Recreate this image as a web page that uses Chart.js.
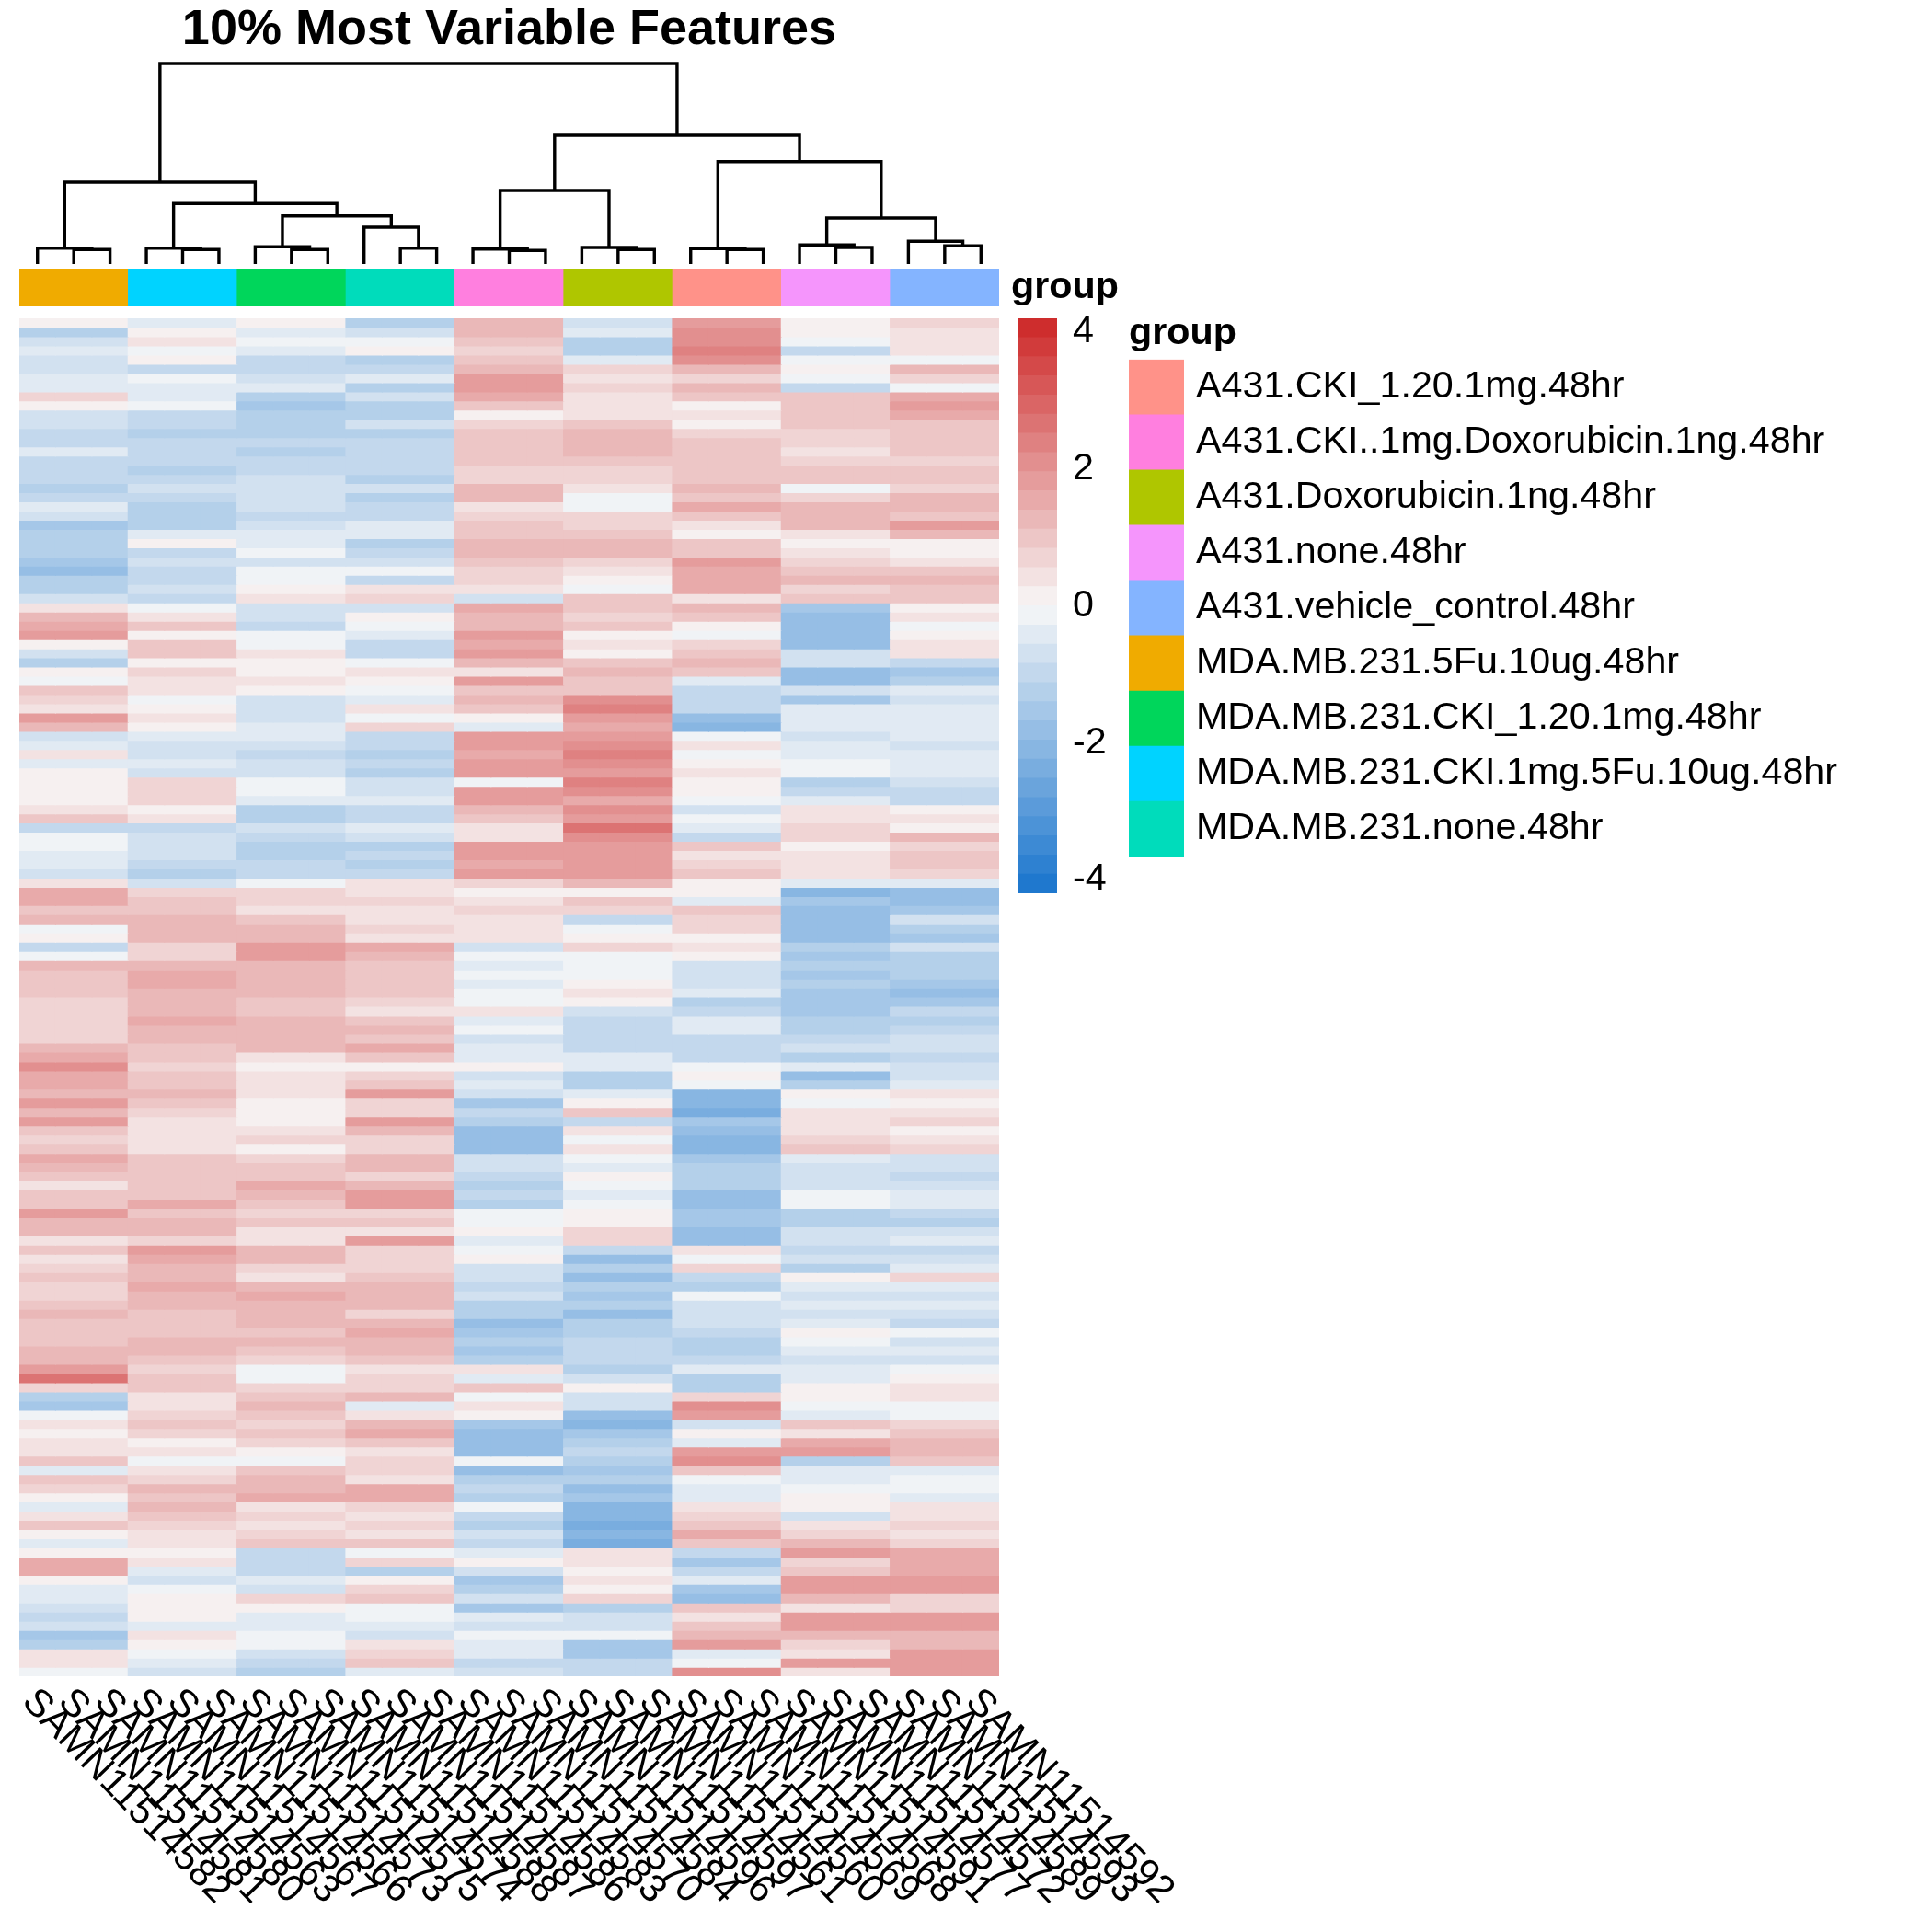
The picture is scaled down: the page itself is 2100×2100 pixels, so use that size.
<!DOCTYPE html>
<html><head><meta charset="utf-8">
<style>html,body{margin:0;padding:0;background:#fff;width:2100px;height:2100px;overflow:hidden}canvas{position:absolute;display:block}</style>
<script src="https://cdn.jsdelivr.net/npm/chart.js@4"></script>
</head><body>
<canvas id="dendro" width="1065" height="287" style="left:21px;top:0"></canvas>
<canvas id="annot" width="1265" height="101" style="left:21px;top:262px"></canvas>
<canvas id="heat" width="1300" height="1760" style="left:0;top:340px"></canvas>
<canvas id="cbar" width="100" height="685" style="left:1107px;top:316px"></canvas>
<canvas id="legend" width="873" height="623" style="left:1227px;top:338px"></canvas>
<script>
const titleText = "10% Most Variable Features";
const sampleIds = ["82","81","80","63","67","66","73","75","74","88","87","86","83","70","84","96","97","61","60","69","68","91","77","72","89","93","92"];
const sampleLabels = sampleIds.map(d => "SAMN115145" + d);
const legendLabels = ["A431.CKI_1.20.1mg.48hr","A431.CKI..1mg.Doxorubicin.1ng.48hr","A431.Doxorubicin.1ng.48hr","A431.none.48hr","A431.vehicle_control.48hr","MDA.MB.231.5Fu.10ug.48hr","MDA.MB.231.CKI_1.20.1mg.48hr","MDA.MB.231.CKI.1mg.5Fu.10ug.48hr","MDA.MB.231.none.48hr"];
const legendColors = ["#FF9289","#FF7FDF","#AFC600","#F595FC","#84B4FF","#F0AB00","#00D65B","#00D3FF","#00DCBB"];
const columnGroupOrder = [5,7,6,8,1,2,0,3,4];
const colorTicks = [4,2,0,-2,-4];

const mdaFu = [.1,-1.2,-.6,-.3,-.6,-.6,-.5,-.4,.6,.1,-.8,-.8,-1,-.9,-.5,-1,-.9,-1,-1.4,-1,-.5,-.7,-1.6,-1.4,-1.3,
-1.4,-1.6,-1.8,-1.4,-1.3,-.6,.5,1.4,1.5,1.9,.2,-.8,-1.3,.1,-.2,1.1,.7,.3,1.7,1.2,-.6,-.4,.3,-.3,.2,
.1,.2,.2,.3,.9,-1,-.2,-.1,-.4,-.5,-.8,.5,1.5,1.6,1,1.2,-.2,.2,-1,-.1,1.4,1.1,.9,1,.6,
.6,.7,.8,.8,1.2,1.6,2.2,1.5,1.5,1.4,1.7,1.4,1.7,1,.6,1,1.5,1.3,1.1,.3,.9,1.1,1.8,1.3,1.2,
.3,.9,.5,.7,1,.8,.7,1,1.4,1.1,.9,1,1.2,1.4,1.8,2.6,.8,-1.4,-1.5,-.1,.5,.2,.4,.3,.9,
-.4,1,.6,.1,-.4,.3,.9,0,-.4,.2,1.6,1.6,.1,-.5,-.5,-.7,-1,-.8,-1.6,-1.2,.3,.3,-.1];
const mdaCkiFu = [-.3,.2,.3,-.2,.1,-1,-.1,-.4,-.3,-.2,-1,-1.1,-1.2,-1,-1,-1,-1.2,-1.1,-.6,-.9,-1.2,-1.4,-1.3,-.3,.1,
-1,-.8,-1,-1,-.6,-.9,-.1,.3,.9,.1,1,1,.2,.8,.4,.5,-.2,.1,.3,.1,-.4,-.7,-.6,-.3,-.6,
.7,.8,.6,.1,.3,-.9,-.7,-.7,-.8,-1.1,-1.2,-.6,.8,1,.9,1.2,1.3,1.4,.6,.7,1.3,1.5,1.6,1.2,1.3,
1.4,1.5,1.3,1.2,1,1.1,.7,1,1.1,1.2,.9,.6,.5,.4,.5,.3,1,.9,1.1,1.1,.9,1.5,1.1,1.2,1.4,
.6,1.8,1.6,1.2,1.4,1.6,1.3,1.3,1.1,.9,1.1,1.2,1.3,1,.8,1,.9,.3,.4,.7,.9,.6,.2,.3,-.1,
.3,.6,1.4,1,1.2,1,.8,.3,.5,.1,.4,-.3,-.6,-.2,.2,0,.1,-.4,.3,.1,-.2,-.4,-.8];
const mdaCki = [.2,-.5,-.2,-.3,-.9,-1.1,-.7,-.5,-1.4,-1.5,-1.3,-1.4,-1.2,-1,-1.3,-1.1,-.9,-.7,-.6,-.7,-.8,-1,-.8,-.4,-.3,
-.1,-.6,-.2,-.1,.2,.3,-.8,-.6,-.9,-.1,-.2,.5,.1,.2,.5,.1,-.6,-.6,-.7,-.4,-.4,-.8,-1,-.7,-.6,
-.1,-.2,-.5,-1.2,-1.3,-.7,-.9,-1.4,-1.2,-1,-1.1,-.1,.7,.6,.5,1,1.2,1.2,1.8,1.9,1.3,1.3,1.4,1.4,1.1,
1,1.2,1.2,1.4,1.2,.5,.1,.4,.5,.5,.2,.2,.2,.4,.6,.2,.7,.9,1,1.5,1.4,1.1,.7,.9,.5,
.4,1.4,1.2,.8,.4,1.4,1.5,1.2,1.2,1.3,1,1.2,1.1,.7,-.2,-.1,.7,1.1,1.2,1,.6,.9,.7,.2,-.1,
1,1.3,1.3,1.6,.3,.7,.4,.8,1.1,-.9,-1,-1,-.3,-.6,.6,.1,-.3,-.5,-.1,-.1,-.7,-.9,-1.3];
const mdaNone = [-1.2,-.6,-.1,.2,-1.4,-1.1,-.5,-1.2,-.8,-1.3,-1.3,-.8,-1.3,-1.1,-1,-.9,-.9,-1.2,-.8,-1.3,-.9,-1,-.5,-.4,-1.2,
-1,-.7,-.2,-1,.3,.6,-.7,.2,-.1,-.4,-.9,-.9,-.2,.3,.1,-.1,-.5,.3,-.1,.6,-1,-1.1,-1.3,-1.1,-1.3,
-.7,-.8,-.3,-1,-.9,-.5,-.6,-1.4,-1.1,-1.2,-.9,.3,.5,.6,.4,.5,.8,.3,1.5,1.4,1,.9,1.1,1,.8,
.3,1,1.3,1.1,1.5,.9,.1,.8,.9,1.8,.7,.6,1.8,1.3,.8,.6,1.3,1.2,.8,1.3,1.8,1.7,.7,1,.5,
1.8,.6,.8,.6,1.1,1.2,1.2,1.3,.8,1.2,1.5,1.2,1.3,1.1,.3,.6,.6,1.3,-.3,.4,1.2,1.6,.9,.5,.6,
.7,.5,1.5,1.5,.7,.5,.7,.3,.9,-.2,.7,-1.4,.1,.7,1.1,-.2,-.2,-.5,-.7,.4,.8,.9,-.4];
const a431Combo = [1.3,1.3,.9,.6,1.1,1.3,1.9,1.8,1.6,1.1,.1,.8,1,1,1.1,1,.6,.6,1.3,1.2,.4,.7,.9,1,1.4,
1.2,1.1,.8,.6,.3,-.8,1.6,1.4,1.3,1.7,1.6,1.8,1.2,.3,1.8,1.1,1.3,1,.2,-.5,1.7,1.9,1.5,1.9,1.7,
-.2,1.7,1.9,1.2,.9,.5,.3,1.7,1.8,1.6,1.7,.6,.1,.3,.8,.5,.4,.3,-.6,-.2,-.3,-.2,-.5,-.2,-.1,
.4,-.4,-.1,-.7,-.5,-.3,.2,-.6,-.5,-.8,-1.6,-.9,-1.3,-1.7,-1.9,-1.7,-.6,-.8,-.9,-1.2,-1,-1.3,-.2,-.1,.2,
-.3,-.2,0,-.7,-.8,-1,-.8,-1.2,-1.2,-1.7,-1.5,-1.3,-1.5,-1.3,.3,-.3,.9,-.2,.3,.2,-1.6,-1.7,-1.9,-1.7,-.2,
-1.7,-1.4,-1.1,-1.3,-.1,-.9,-1.4,-.7,-.9,-.4,.1,-.8,-1.5,-1.2,-.8,-1.6,-.5,-.6,-.1,-.3,-.5,-1.1,-.6];
const a431Doxo = [-.8,-.3,-1.2,-1.4,-.3,.8,.5,.8,.3,.4,.5,1,1.2,1.3,1.2,.9,.7,.8,.5,-.1,-.1,.6,.7,1,1.4,
1.4,.7,.5,.2,-.1,.9,1,.6,1,.2,.3,.1,1,1.2,1.1,.9,2.1,2.3,1.7,1.6,1.9,2.2,2.5,2.1,1.9,
2.4,2,1.6,2.1,1.8,2.6,2.1,1.9,1.8,1.8,1.8,1.2,0,.9,.8,-1.1,-.1,.1,.6,-.2,-.2,-.2,.1,.3,.1,
-.6,-1,-.9,-1,-1,-.5,-.5,-1.2,-1.3,-.3,.2,.9,-.9,.3,-.2,.3,-.2,-.4,.2,-.2,-.3,-.1,.2,.2,.7,
.8,-1,-1.8,-1.4,-1.8,-1.3,-1.5,-1.3,-1.7,-1.3,-1.2,-1,-1.1,-1.1,-1.4,-.8,.1,-.8,-.8,-1.9,-2,-1.5,-1.2,-1.1,-1.4,
-1.6,-1.4,-1.9,-1.5,-2.2,-2.1,-2.3,-2.1,-2.3,.5,.3,.2,.5,.2,.8,-1.2,-.8,-.7,-.2,-1.6,-1.5,-1.1,-.9];
const a431Cki = [1.9,2.2,2.1,2.3,2,1.3,.7,1.4,1,.1,.4,.1,.8,.9,.9,.9,1,1,1.3,1,1.6,.9,.5,.1,.9,
1,1.9,1.5,1.5,1.5,.3,1.2,.9,.1,-.2,.7,1,1.3,1,-.5,-1,-.9,-1,-1.9,-2,-.2,.3,-.1,.2,.3,
.2,.1,-.2,-.6,-.2,-.3,-1,1,.4,.6,1.1,.2,.2,-.4,.9,.7,.7,.2,.4,.1,-.6,-.8,-.7,-.5,-1.2,
-.9,-.3,-.5,-.9,-.9,-1,-.2,.1,-.1,-2.1,-2.1,-2.3,-1.6,-1.7,-2.1,-2,-1.6,-1.4,-1.4,-1.4,-1.9,-1.9,-1.5,-1.5,-1.9,
-1.9,.5,-.1,.6,-1,-1.2,-.1,-.6,-.6,-.8,-1.1,-1.3,-1.3,-1.1,-.4,-1.2,-1.4,.8,2.1,1.8,-.8,.1,-.3,1.8,2.1,
.9,-.1,-.3,-.4,.5,.7,1.1,1.5,.9,-.9,-1.5,-1,-.4,-1.6,-1.7,1.1,.5,1.1,1.2,1.7,-.3,-.2,2.1];
const a431None = [.2,.1,-.1,-1,-.2,.1,-.2,-1,.9,.9,1.1,1,.8,.6,.5,.6,1.1,1,-.2,.7,1.2,1.2,1.4,.4,.2,
.3,.6,1,1.2,.8,1.1,-1.5,-1.9,-1.8,-1.9,-1.9,-.6,-.7,-1.8,-1.7,-.8,-1.5,-.4,-.3,-.4,-.7,-.4,-.3,-.1,-.2,
-1.2,-1,-.3,.3,.3,.8,.7,.2,.4,.3,.4,-.5,-2,-1.6,-1.8,-1.8,-1.7,-1.9,-1.2,-1.5,-1.3,-1.5,-1.3,-1.5,-1.5,
-1.5,-1.3,-1.3,-1.1,-.7,-1.3,-.4,-1.7,-1.2,.1,-.1,.3,.4,.3,.8,1.1,-.5,-.6,-.6,-.6,-.2,-.1,-1.3,-1.2,-.6,
-.6,-.9,-.8,-1.3,.2,-.3,-.8,-.5,-.6,-.5,0,-.2,-.4,-.7,-.4,-.4,.2,0,-.1,-.5,.9,.4,1.5,1.7,-1.2,
-.3,-.4,-.1,.1,.1,-.7,.5,.6,1.3,1.9,.8,.9,1.8,1.7,1.4,.4,1.8,1.9,1.2,.7,.3,1.7,.3];
const a431Vehicle = [.8,.3,.3,.3,-.1,1.2,.6,-.1,1.5,1.9,1.5,.9,1,1,.9,.6,1,1.1,.7,1.3,1.3,1,1.7,1.4,.1,
.2,.4,1.1,1.2,1,1,.1,.3,-.2,.1,.3,.3,-.9,-1.5,-1.3,-.5,-.8,-.5,-.4,-.3,-.4,-.7,-.5,-.5,-.4,
-.6,-.9,-1,.1,.5,.2,1.2,.8,1,.9,.6,-.3,-1.7,-1.9,-1.6,-.8,-1.2,-1.6,-.7,-1.2,-1.2,-1.4,-1.6,-1.7,-1.5,
-1,-1.3,-.9,-.8,-.8,-.9,-.8,-.7,-.4,.3,.1,.4,.7,.2,.5,.8,-.7,-.7,-1,-.8,-.5,-.3,-1,-1.2,-.7,
-.5,-.9,-.8,-.5,.8,-.5,-.8,-.5,-.6,-1,-.2,-.6,-.4,-.6,-.2,.2,.5,.5,-.2,-.1,.8,1.1,1.3,1.4,.9,
-.4,-.2,-.2,-.3,.4,.3,.7,.3,.7,1.6,1.5,1.6,1.7,1.7,.6,.7,1.9,1.8,1.2,1.4,1.8,1.7,1.8];
const groupValues = [a431Cki, a431Combo, a431Doxo, a431None, a431Vehicle, mdaFu, mdaCki, mdaCkiFu, mdaNone];

// [left x, left height, right x, right height, merge height] with x in sample positions
const dendroMerges = [[1,0,2,0,15.7],[0,0,1.5,15.7,17.3],[4,0,5,0,15.7],[3,0,4.5,15.7,17.3],[7,0,8,0,15.7],[6,0,7.5,15.7,18.7],[10,0,11,0,17.3],[9,0,10.5,17.3,40],
[6.75,18.7,9.75,40,52.3],[3.75,17.3,8.25,52.3,65.7],[.75,17.3,6,65.7,89],[13,0,14,0,14.7],[12,0,13.5,14.7,16.3],[16,0,17,0,15.7],[15,0,16.5,15.7,18],[12.75,16.3,15.75,18,80],
[19,0,20,0,15.7],[18,0,19.5,15.7,16.7],[22,0,23,0,18],[21,0,22.5,18,20.7],[25,0,26,0,19.7],[24,0,25.5,19.7,24.7],[21.75,20.7,24.75,24.7,50],[18.75,16.7,23.25,50,111.3],
[14.25,80,21,111.3,140],[3.375,89,17.625,140,218]];

const FONT = "'Liberation Sans', Arial, sans-serif";
Chart.defaults.font.family = FONT;
Chart.defaults.color = "#000";
Chart.defaults.animation = false;
Chart.defaults.devicePixelRatio = 1;
Chart.defaults.responsive = false;
Chart.defaults.maintainAspectRatio = false;
Chart.defaults.plugins.legend.display = false;
Chart.defaults.plugins.tooltip.enabled = false;
const ink = {size:41.25};

const rampLow=[0x18,0x74,0xCD], rampMid=[0xF7,0xF7,0xF7], rampHigh=[0xCD,0x26,0x26];
const colorMin=-4.2, colorMax=4.2, colorSteps=30, colorStep=(colorMax-colorMin)/colorSteps;
function stepColor(i){
  const t=(i+.5)/colorSteps*2-1, a=t<0?rampLow:rampHigh, k=Math.abs(t);
  return "rgb("+[0,1,2].map(c=>Math.round(rampMid[c]+(a[c]-rampMid[c])*k)).join(",")+")";
}
function valueColor(v){
  return stepColor(Math.max(0,Math.min(colorSteps-1,Math.floor((v-colorMin)/colorStep))));
}
function fixAxis(width){return s=>{s.width=width;s.paddingTop=0;s.paddingBottom=0;};}

new Chart(document.getElementById("dendro"),{type:"scatter",
  data:{datasets:dendroMerges.map(m=>({data:[{x:m[0],y:m[1]},{x:m[0],y:m[4]},{x:m[2],y:m[4]},{x:m[2],y:m[3]}],showLine:true,borderColor:"#000",borderWidth:3.4,pointRadius:0,clip:false,tension:0,borderJoinStyle:"miter"}))},
  options:{layout:{padding:0},plugins:{title:{display:true,text:titleText,color:"#000",font:{size:54,weight:"bold",lineHeight:1.2},padding:{top:1,bottom:-.8}}},
    scales:{x:{type:"linear",min:-.5,max:26.5,display:false},y:{type:"linear",min:0,max:222,display:false}}}});

const axisClean={grid:{display:false,drawTicks:false},border:{display:false}};
new Chart(document.getElementById("annot"),{type:"bar",
  data:{labels:columnGroupOrder.map(i=>legendLabels[i]),datasets:[{data:columnGroupOrder.map(()=>1),backgroundColor:columnGroupOrder.map(i=>legendColors[i]),barPercentage:1,categoryPercentage:1,inflateAmount:.3}]},
  options:{layout:{padding:{top:30,bottom:30}},scales:{x:{display:false},
    y:{...axisClean,position:"right",min:0,max:1,afterBuildTicks:s=>{s.ticks=[{value:.5}]},afterFit:fixAxis(200),
       ticks:{padding:13,font:{size:ink.size,weight:"bold"},callback:()=>"group"}}}}});

const sampleTextPlugin={id:"sampleText",afterDraw(chart){
  const ctx=chart.ctx,s=chart.scales.x;ctx.save();
  ctx.font="42px "+FONT;ctx.fillStyle="#000";ctx.textAlign="left";ctx.textBaseline="middle";
  chart.data.labels.forEach((t,i)=>{ctx.save();ctx.translate(s.getPixelForValue(i)-10,1843-340);ctx.rotate(46*Math.PI/180);ctx.fillText(t,0,0);ctx.restore();});
  ctx.restore();}};
const rowCount=groupValues[0].length;
const rowDatasets=[];
for(let r=0;r<rowCount;r++){
  const colors=[];
  columnGroupOrder.forEach(g=>{for(let k=0;k<3;k++)colors.push(valueColor(groupValues[g][r]));});
  rowDatasets.push({data:sampleLabels.map(()=>[r,r+1]),backgroundColor:colors,barPercentage:1,categoryPercentage:1,grouped:false,inflateAmount:.6});
}
new Chart(document.getElementById("heat"),{type:"bar",plugins:[sampleTextPlugin],
  data:{labels:sampleLabels,datasets:rowDatasets},
  options:{layout:{padding:{left:21,right:214,top:6,bottom:278}},
    scales:{x:{display:false},y:{type:"linear",reverse:true,min:0,max:rowCount,display:false}}}});

const cbarSets=[];
for(let i=0;i<colorSteps;i++)cbarSets.push({data:[[colorMin+i*colorStep,colorMin+(i+1)*colorStep]],backgroundColor:stepColor(i),barPercentage:1,categoryPercentage:1,grouped:false,inflateAmount:.4});
new Chart(document.getElementById("cbar"),{type:"bar",
  data:{labels:[""],datasets:cbarSets},
  options:{layout:{padding:{top:30,bottom:30}},scales:{x:{display:false},
    y:{...axisClean,position:"right",min:colorMin,max:colorMax,afterBuildTicks:s=>{s.ticks=colorTicks.map(v=>({value:v}))},afterFit:fixAxis(58),
       ticks:{padding:17,font:{size:ink.size},autoSkip:false}}}}});

new Chart(document.getElementById("legend"),{type:"bar",
  data:{labels:legendLabels,datasets:[{data:legendLabels.map(()=>1),backgroundColor:legendColors,barPercentage:1,categoryPercentage:1,inflateAmount:.3}]},
  options:{indexAxis:"y",layout:{padding:{bottom:30}},plugins:{title:{display:true,text:"group",align:"start",color:"#000",font:{size:ink.size,weight:"bold",lineHeight:1.2},padding:{top:0,bottom:3.3}}},
    scales:{x:{display:false,min:0,max:1},y:{...axisClean,position:"right",afterFit:fixAxis(813),ticks:{padding:13,autoSkip:false,font:{size:ink.size}}}}}});
</script>
</body></html>
